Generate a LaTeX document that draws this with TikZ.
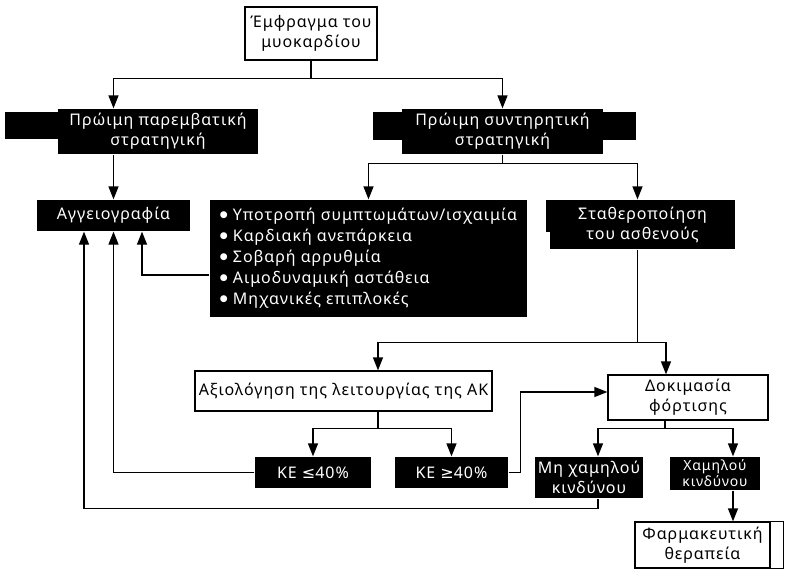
\documentclass[tikz,border=0pt]{standalone}
\usepackage{fontspec}
\setmainfont{Noto Sans}[LetterSpace=6]
\newfontfamily\symfont{DejaVu Sans}
\usetikzlibrary{arrows.meta}

\newcommand{\dotitem}{\raisebox{0.35ex}{\symfont\fontsize{9}{9}\selectfont ●}\ }

\begin{document}
\begin{tikzpicture}[x=1pt,y=-1pt,line width=1.2pt,
  font=\fontsize{16}{20}\selectfont,
  >={Triangle[length=13pt,width=10pt]},
  whitebox/.style={draw,fill=white,align=center,inner sep=0pt},
  blackbox/.style={fill=black,text=white,align=center,inner sep=0pt}]
\useasboundingbox (0,0) rectangle (788,570);

% tabs behind the two strategy boxes
\fill (5,112)   rectangle (258,139);
\fill (373,112) rectangle (636,140);
\fill (546,200) rectangle (560,232);

\node[whitebox,minimum width=132,minimum height=53] (infarct)      at (311,33.5)  {Έμφραγμα του\\μυοκαρδίου};
\node[blackbox,minimum width=200,minimum height=45] (invasive)     at (158,131.5) {Πρώιμη παρεμβατική\\στρατηγική};
\node[blackbox,minimum width=201,minimum height=45] (conservative) at (502.5,131.5) {Πρώιμη συντηρητική\\στρατηγική};
\node[blackbox,minimum width=153,minimum height=31] (angio)        at (113.5,215.5) {Αγγειογραφία};
\node[blackbox,minimum width=317,minimum height=117,align=left,font=\fontsize{16}{21}\selectfont] (list) at (368.5,258.5)
  {\dotitem Υποτροπή συμπτωμάτων/ισχαιμία\\\dotitem Καρδιακή ανεπάρκεια\\\dotitem Σοβαρή αρρυθμία\\\dotitem Αιμοδυναμική αστάθεια\\\dotitem Μηχανικές επιπλοκές};
\node[blackbox,minimum width=185,minimum height=49] (stabil)       at (642.5,224.5) {Σταθεροποίηση\\του ασθενούς};
\node[whitebox,minimum width=297,minimum height=40] (assess)       at (343.5,391) {Αξιολόγηση της λειτουργίας της ΑΚ};
\node[whitebox,minimum width=160,minimum height=45] (stress)       at (688,397.5) {Δοκιμασία\\φόρτισης};
\node[blackbox,minimum width=116,minimum height=31] (lowEF)        at (313,472.5) {ΚΕ {\symfont ≤}40\%};
\node[blackbox,minimum width=113,minimum height=31] (highEF)       at (451.5,472.5) {ΚΕ {\symfont ≥}40\%};
\node[blackbox,minimum width=108,minimum height=41] (notlow)       at (589,477.5) {Μη χαμηλού\\κινδύνου};
\node[blackbox,minimum width=90,minimum height=33,font=\fontsize{14}{16}\selectfont] (lowrisk) at (715,473.5) {Χαμηλού\\κινδύνου};
\node[whitebox,minimum width=135,minimum height=46] (drug)         at (702.5,545) {Φαρμακευτική\\θεραπεία};
\draw (drug.north east) -- ++(13,0) |- (drug.south east);

% connectors
\draw[->] (infarct.south) -- ++(0,18) -| (conservative.north);
\draw[->] (infarct.south) -- ++(0,18) -| (invasive.north -| angio.north);
\draw[->] (invasive.south -| angio.north) -- (angio.north);
\draw[->] (conservative.south) -- ++(0,9) -| (list.north);
\draw[->] (conservative.south) -- ++(0,9) -| ([xshift=-5]stabil.north);
\draw[->] ([yshift=-16.5]list.west) -| ([xshift=28.5]angio.south);
\draw[->] ([xshift=-5]stabil.south) -- ++(0,93) -| ([xshift=34.5]assess.north);
\draw[->] ([xshift=-5]stabil.south) -- ++(0,93) -| ([xshift=-22]stress.north);
\draw[->] ([xshift=34.5]assess.south) -- ++(0,17) -| (lowEF.north);
\draw[->] ([xshift=34.5]assess.south) -- ++(0,17) -| (highEF.north);
\draw[->] (lowEF.west) -| (angio.south);
\draw[->] (highEF.east) -- ++(12,0) |- ([yshift=5.5]stress.west);
\draw[->] ([xshift=-23]stress.south) -- ++(0,8) -| ([xshift=9]notlow.north);
\draw[->] ([xshift=-23]stress.south) -- ++(0,8) -| ([xshift=18]lowrisk.north);
\draw[->] ([xshift=9]notlow.south) -- ++(0,10) -| ([xshift=-29.5]angio.south);
\draw[->] ([xshift=18]lowrisk.south) -- ([xshift=30.5]drug.north);
\end{tikzpicture}
\end{document}
